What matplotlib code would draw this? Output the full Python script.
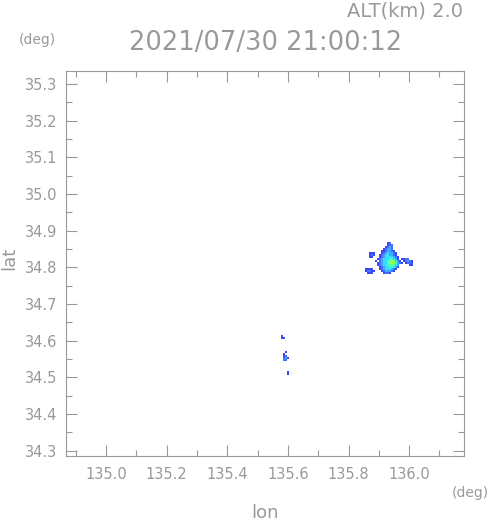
import matplotlib.pyplot as plt
import numpy as np
from matplotlib.colors import ListedColormap, BoundaryNorm

# radar echo levels (0 = no echo), rows go from north to south
main_lon0, main_lat0 = 135.855, 34.869   # north-west corner of the main patch
small_lon0, small_lat0 = 135.570, 34.621  # north-west corner of the small patch
cell_lon, cell_lat = 0.0066, 0.0054

main_rows = [
    "...........12...........",
    "...........122..........",
    "..........1232..........",
    ".........12332..........",
    "........1123321.........",
    "..111...12343321........",
    "..121..123443321........",
    "..11...1234444321.......",
    "......12344455431.1122..",
    ".....1.23445666431.12321",
    "......1234456665321.1221",
    "......12344556543.....11",
    ".......1234455431.......",
    "1111...123444321........",
    "12211...1233321.........",
    ".111.....1221...........",
]

small_rows = [
    ".......",
    ".1.....",
    ".11....",
    ".......",
    ".......",
    ".......",
    ".......",
    ".......",
    ".......",
    "...1...",
    "..1....",
    "..12...",
    "..231..",
    "..22...",
    ".......",
    ".......",
    ".......",
    ".......",
    ".......",
    "....1..",
    "....1..",
    ".......",
]

level_colors = ["#3c46f5", "#4670ff", "#3ca8ff", "#3cdcff", "#3cffcc", "#90ff50"]

x_ticks = [135.0, 135.2, 135.4, 135.6, 135.8, 136.0]
y_ticks = [34.3, 34.4, 34.5, 34.6, 34.7, 34.8, 34.9, 35.0, 35.1, 35.2, 35.3]

gray = "#999999"


def to_grid(rows):
    return np.array([[0 if ch == "." else int(ch) for ch in r] for r in rows])


def draw_patch(ax, rows, lon0, lat0):
    z = to_grid(rows)
    ny, nx = z.shape
    lon_edges = lon0 + cell_lon * np.arange(nx + 1)
    lat_edges = lat0 - cell_lat * np.arange(ny + 1)
    zm = np.ma.masked_equal(z, 0)
    ax.pcolormesh(lon_edges, lat_edges, zm, cmap=cmap, norm=norm, shading="flat")


cmap = ListedColormap(level_colors)
norm = BoundaryNorm(np.arange(0.5, len(level_colors) + 1), cmap.N)

fig = plt.figure(figsize=(4.91, 5.21), dpi=100)
ax = fig.add_axes([0.1344, 0.1248, 0.8106, 0.7390])

draw_patch(ax, main_rows, main_lon0, main_lat0)
draw_patch(ax, small_rows, small_lon0, small_lat0)

ax.set_xlim(134.868, 136.181)
ax.set_ylim(34.286, 35.335)
ax.set_xticks(x_ticks)
ax.set_yticks(y_ticks)
ax.set_xticks(np.arange(134.9, 136.2, 0.2), minor=True)
ax.set_yticks(np.arange(34.35, 35.33, 0.1), minor=True)
ax.set_xticklabels(["%.1f" % v for v in x_ticks])
ax.set_yticklabels(["%.1f" % v for v in y_ticks])

ax.tick_params(which="both", direction="in", top=True, right=True, colors=gray,
               labelsize=10.5, width=0.8)
ax.tick_params(which="major", length=8)
ax.tick_params(which="minor", length=4)
ax.tick_params(axis="x", pad=8)
ax.tick_params(axis="y", pad=6)
for s in ax.spines.values():
    s.set_color(gray)
    s.set_linewidth(0.8)

fig.text(0.54, 0.918, "2021/07/30 21:00:12", ha="center", va="center",
         fontsize=18.5, color=gray)
fig.text(0.943, 0.979, "ALT(km) 2.0", ha="right", va="center", fontsize=14, color=gray)
fig.text(0.076, 0.923, "(deg)", ha="center", va="center", fontsize=10, color=gray)
fig.text(0.958, 0.054, "(deg)", ha="center", va="center", fontsize=10, color=gray)
fig.text(0.54, 0.016, "lon", ha="center", va="center", fontsize=13, color=gray)
fig.text(0.018, 0.505, "lat", ha="center", va="center", fontsize=13, color=gray,
         rotation=90)

fig.savefig("out.png", dpi=100)
plt.close()
